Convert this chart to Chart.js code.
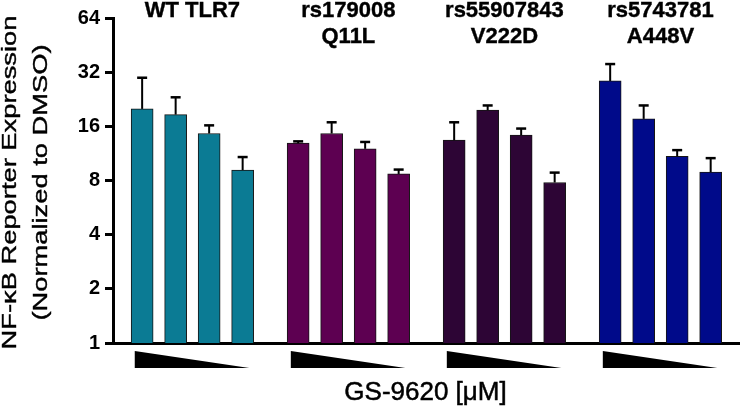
<!DOCTYPE html>
<html lang="en">
<head>
    <meta charset="UTF-8">
    <title>TLR7 variants - NF-kB reporter</title>
    <script src="https://cdn.jsdelivr.net/npm/chart.js"></script>
    <style>
        body { margin: 0; background: #fff; }
        #wrap { width: 740px; height: 407px; position: relative; }
    </style>
</head>
<body>
<div id="wrap">
    <canvas id="reporterChart"></canvas>
</div>

<script>
    // values (mean and upper error, fold over DMSO)
    const groupLabels = [['WT TLR7'], ['rs179008', 'Q11L'], ['rs55907843', 'V222D'], ['rs5743781', 'A448V']];
    const wtMeans = [20.0, 18.6, 14.6, 9.15];
    const wtErr = [9.8, 4.6, 1.6, 1.65];
    const q11lMeans = [12.9, 14.6, 12.0, 8.7];
    const q11lErr = [0.3, 2.25, 1.1, 0.5];
    const v222dMeans = [13.4, 19.7, 14.3, 7.8];
    const v222dErr = [3.45, 1.2, 1.25, 1.05];
    const a448vMeans = [28.6, 17.6, 10.9, 8.9];
    const a448vErr = [6.9, 3.3, 0.9, 1.75];
    const yTicks = [1, 2, 4, 8, 16, 32, 64];
    const xTitle = 'GS-9620 [\u03bcM]';
    const yTitle = ['NF-\u03baB Reporter Expression', '(Normalized to DMSO)'];

    const barColors = ['#0b7b94', '#5d0051', '#2d0535', '#000a8a'];
    const FONT = "'Liberation Sans', Arial, sans-serif";
    const GROUP_STEP = 4.657;   // bar slots between first bars of two groups
    const X_MIN = -0.87;
    const X_MAX = X_MIN + 627 / 33.5;

    var allMeans = [wtMeans, q11lMeans, v222dMeans, a448vMeans];
    var allErr = [wtErr, q11lErr, v222dErr, a448vErr];

    var datasets = allMeans.map(function(means, g) {
        return {
            label: groupLabels[g].join(' '),
            data: means.map(function(v, i) { return {x: g * GROUP_STEP + i, y: v}; }),
            err: allErr[g],
            backgroundColor: barColors[g],
            borderColor: '#151515',
            borderWidth: 1,
            barThickness: 22,
            grouped: false
        };
    });

    // text with a hairline stroke so it reads as heavy as the scanned figure
    function heavyText(ctx, t, x, y) {
        ctx.fillText(t, x, y);
        ctx.strokeText(t, x, y);
    }

    // error bars, group names, wedges and axis titles
    var decor = {
        id: 'decor',
        afterDatasetsDraw: function(chart) {
            var ctx = chart.ctx;
            var y = chart.scales.y;
            ctx.save();
            ctx.strokeStyle = '#000';
            chart.data.datasets.forEach(function(ds, d) {
                var meta = chart.getDatasetMeta(d);
                meta.data.forEach(function(bar, i) {
                    var top = y.getPixelForValue(ds.data[i].y + ds.err[i]);
                    ctx.lineWidth = 2;
                    ctx.beginPath();
                    ctx.moveTo(bar.x, bar.y);
                    ctx.lineTo(bar.x, top);
                    ctx.stroke();
                    ctx.lineWidth = 2.5;
                    ctx.beginPath();
                    ctx.moveTo(bar.x - 5, top);
                    ctx.lineTo(bar.x + 5, top);
                    ctx.stroke();
                });
            });
            ctx.restore();
        },
        afterDraw: function(chart) {
            var ctx = chart.ctx;
            var x = chart.scales.x;
            var area = chart.chartArea;
            ctx.save();
            ctx.fillStyle = '#000';
            ctx.strokeStyle = '#000';

            // group names on top
            ctx.font = 'bold 22px ' + FONT;
            ctx.lineWidth = 0.4;
            ctx.textAlign = 'center';
            ctx.textBaseline = 'alphabetic';
            groupLabels.forEach(function(lines, g) {
                var cx = x.getPixelForValue(g * GROUP_STEP + 1.5);
                lines.forEach(function(t, k) {
                    heavyText(ctx, t, cx, 17 + k * 26);
                });
            });

            // decreasing dose wedges
            groupLabels.forEach(function(lines, g) {
                var x0 = x.getPixelForValue(g * GROUP_STEP - 0.22);
                var x1 = x.getPixelForValue(g * GROUP_STEP + 3.2);
                ctx.beginPath();
                ctx.moveTo(x0, area.bottom + 8);
                ctx.lineTo(x0, area.bottom + 25);
                ctx.lineTo(x1, area.bottom + 25);
                ctx.closePath();
                ctx.fill();
            });

            // x title
            ctx.font = '26px ' + FONT;
            ctx.lineWidth = 0.5;
            heavyText(ctx, xTitle, (area.left + area.right) / 2 - 1, 400);

            // y title, two rotated lines, stretched like the original
            var cy = (area.top + area.bottom) / 2 + 2;
            ctx.font = '21px ' + FONT;
            ctx.lineWidth = 0.4;
            yTitle.forEach(function(t, k) {
                ctx.save();
                ctx.translate(16 + k * 31, cy);
                ctx.rotate(-Math.PI / 2);
                ctx.scale(1.3, 1);
                heavyText(ctx, t, 0, 0);
                ctx.restore();
            });
            ctx.restore();
        }
    };

    var ctx = document.getElementById('reporterChart').getContext('2d');
    var reporterChart = new Chart(ctx, {
        type: 'bar',
        data: { datasets: datasets },
        plugins: [decor],
        options: {
            responsive: true,
            maintainAspectRatio: false,
            animation: false,
            layout: { padding: { top: 18, left: 0, right: 0, bottom: 0 } },
            plugins: {
                legend: { display: false },
                tooltip: { enabled: false }
            },
            scales: {
                x: {
                    type: 'linear',
                    min: X_MIN,
                    max: X_MAX,
                    offset: false,
                    grid: { display: false },
                    ticks: { display: false },
                    border: { display: true, color: '#000', width: 3 },
                    afterFit: function(s) { s.height = 64; }
                },
                y: {
                    type: 'logarithmic',
                    min: 1,
                    max: 64,
                    afterBuildTicks: function(s) {
                        s.ticks = yTicks.map(function(v) { return {value: v}; });
                    },
                    afterFit: function(s) { s.width = 113; },
                    grid: {
                        drawOnChartArea: false,
                        drawTicks: true,
                        tickLength: 8,
                        tickWidth: 3,
                        tickColor: '#000',
                        lineWidth: 3,
                        color: '#000'
                    },
                    border: { display: true, color: '#000', width: 3 },
                    ticks: {
                        padding: 5,
                        color: '#000',
                        font: { family: FONT, size: 20, weight: 'bold' },
                        callback: function(v) { return v; }
                    }
                }
            }
        }
    });
</script>
</body>
</html>
